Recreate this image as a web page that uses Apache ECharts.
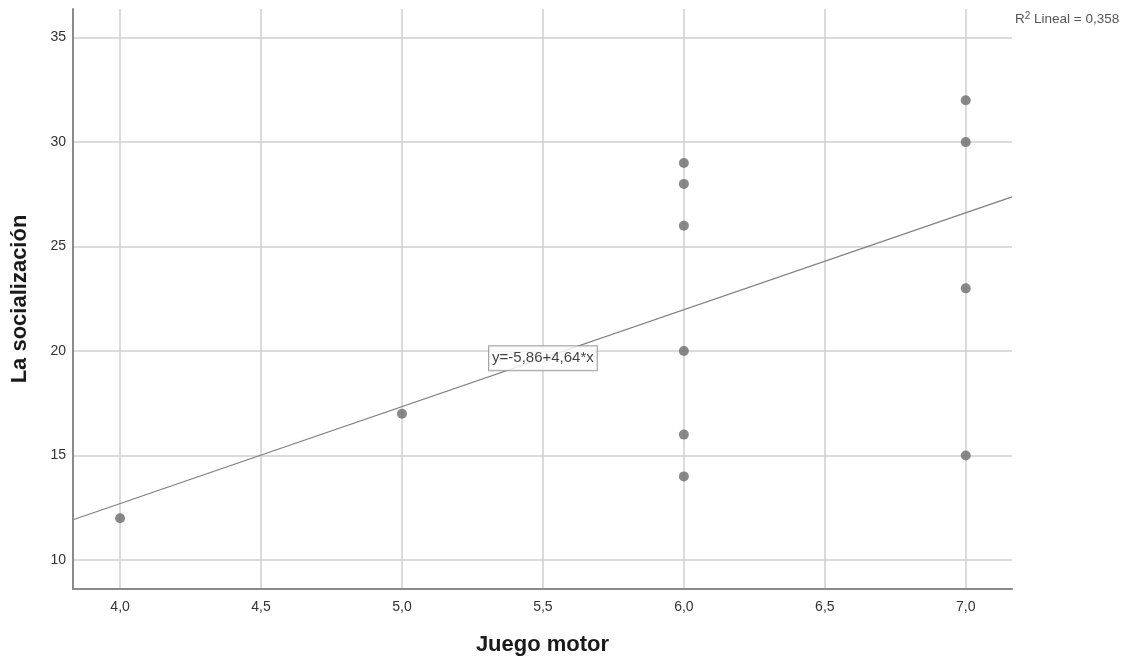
<!DOCTYPE html>
<html>
<head>
<meta charset="utf-8">
<script src="https://cdn.jsdelivr.net/npm/echarts@6/dist/echarts.min.js"></script>
<style>
html,body{margin:0;padding:0;background:#fff;}
#chart{width:1134px;height:664px;}
</style>
</head>
<body>
<div id="chart"></div>
<script>
// Data
const juegoMotor = [4, 5, 6, 6, 6, 6, 6, 6, 7, 7, 7, 7];
const socializacion = [12, 17, 29, 28, 26, 20, 16, 14, 32, 30, 23, 15];
const intercept = [-5.86];
const slope = [4.64];
const r2 = [0.358];
const xRange = [3.833, 7.164];
const yRange = [8.61, 36.37];
const labelX = [5.5];

const fmt1 = v => v.toFixed(1).replace('.', ',');
const lineY = x => intercept[0] + slope[0] * x;
const isMult = (v, s) => Math.abs(v / s - Math.round(v / s)) < 1e-6;

const points = juegoMotor.map((x, i) => [x, socializacion[i]]);
const fitLine = xRange.map(x => [x, lineY(x)]);
const eqText = 'y=' + intercept[0].toFixed(2).replace('.', ',') + '+' + slope[0].toFixed(2).replace('.', ',') + '*x';

const chart = echarts.init(document.getElementById('chart'));
chart.setOption({
  animation: false,
  backgroundColor: '#fff',
  textStyle: { fontFamily: 'Liberation Sans, Arial, sans-serif' },
  title: {
    text: 'R{sup|2} Lineal = ' + r2[0].toFixed(3).replace('.', ','),
    left: 1010, top: 6,
    textStyle: {
      fontSize: 13.5, color: '#555', fontWeight: 'normal',
      fontFamily: 'Liberation Sans, Arial, sans-serif',
      rich: { sup: { fontSize: 10, color: '#555', verticalAlign: 'top', padding: [0, 0, 7, 0] } }
    }
  },
  grid: { left: 73, right: 122, top: 9, bottom: 75, containLabel: false },
  xAxis: {
    type: 'value',
    min: xRange[0], max: xRange[1],
    splitNumber: 7,
    name: 'Juego motor',
    nameLocation: 'middle',
    nameGap: 45,
    nameTextStyle: { fontSize: 22, fontWeight: 'bold', color: '#1a1a1a' },
    axisLine: { show: true, lineStyle: { color: '#8a8a8a', width: 2 } },
    axisTick: { show: false },
    axisLabel: {
      margin: 11, fontSize: 14, color: '#333',
      showMinLabel: false, showMaxLabel: false,
      formatter: v => isMult(v, 0.5) ? fmt1(v) : ''
    },
    splitLine: { show: true, showMinLine: false, showMaxLine: false, lineStyle: { color: '#cfcfcf', width: 1.5 } }
  },
  yAxis: {
    type: 'value',
    min: yRange[0], max: yRange[1],
    splitNumber: 5,
    name: 'La socialización',
    nameLocation: 'middle',
    nameGap: 42,
    nameRotate: 90,
    nameTextStyle: { fontSize: 22, fontWeight: 'bold', color: '#1a1a1a' },
    axisLine: { show: true, lineStyle: { color: '#8a8a8a', width: 2 } },
    axisTick: { show: false },
    axisLabel: {
      margin: 7, fontSize: 14, color: '#333',
      showMinLabel: false, showMaxLabel: false,
      formatter: v => isMult(v, 5) ? String(Math.round(v)) : ''
    },
    splitLine: { show: true, showMinLine: false, showMaxLine: false, lineStyle: { color: '#cfcfcf', width: 1.5 } }
  },
  series: [
    {
      type: 'line',
      data: fitLine,
      symbol: 'none',
      lineStyle: { color: '#808080', width: 1.2 },
      z: 3,
      silent: true
    },
    {
      type: 'scatter',
      data: points,
      symbol: 'circle',
      symbolSize: 10,
      itemStyle: { color: '#6b6b6b' },
      z: 4
    },
    {
      type: 'scatter',
      data: labelX.map(x => [x, lineY(x)]),
      symbolSize: 0,
      z: 5,
      label: {
        show: true,
        position: 'inside',
        formatter: eqText,
        fontSize: 15,
        color: '#111',
        backgroundColor: '#fff',
        borderColor: '#8a8a8a',
        borderWidth: 1,
        padding: [5, 3, 4, 3]
      }
    }
  ]
});
</script>
</body>
</html>
